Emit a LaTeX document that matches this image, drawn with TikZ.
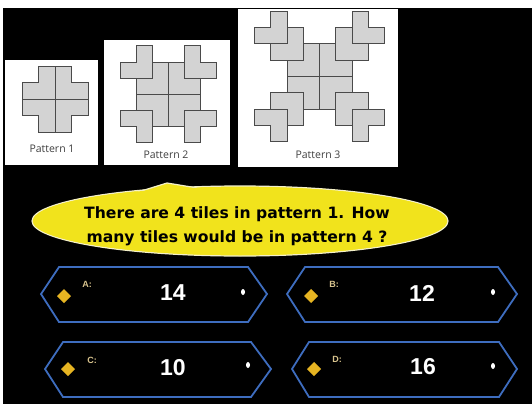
\documentclass[tikz,border=0pt]{standalone}
\usepackage{fontspec}
\setmainfont{Liberation Sans}
\newfontfamily\patfont{Open Sans}
\newfontfamily\qfont{DejaVu Sans}
\definecolor{tilegray}{HTML}{D3D3D3}
\definecolor{tileedge}{HTML}{4A4A4A}
\definecolor{labelgray}{HTML}{404040}
\definecolor{ansblue}{HTML}{3E6DBF}
\definecolor{letgold}{HTML}{D9C48E}
\definecolor{gemgold}{HTML}{E6B422}
\definecolor{callyellow}{HTML}{F1E31C}
\definecolor{glow}{HTML}{F4F0C8}
\begin{document}
\begin{tikzpicture}[x=1pt,y=-1pt,
  tile/.style={fill=tilegray, draw=tileedge, line width=1pt, line join=miter},
  tileline/.style={draw=tileedge, line width=1pt},
  patlabel/.style={font=\patfont\fontsize{10.5}{12}\selectfont, text=labelgray, inner sep=0pt},
  ansbox/.style={draw=ansblue, line width=1.8pt, line join=miter},
  ansnum/.style={font=\bfseries\fontsize{23}{26}\selectfont, text=white, inner sep=0pt},
  anslet/.style={font=\bfseries\fontsize{9}{10}\selectfont, text=letgold, inner sep=0pt},
  gem/.style={fill=gemgold},
  ]
\useasboundingbox (0,0) rectangle (532,404);
\fill[white] (0,0) rectangle (532,404);
\fill[black] (3,8) rectangle (532,404);

% ---------- pattern boxes ----------
\fill[white] (5,60) rectangle (98,165);
\fill[white] (104,40) rectangle (230,165);
\fill[white] (238,9) rectangle (398,167);

% Pattern 1 : cross
\draw[tile] (38.5,66) -- (71.5,66) -- (71.5,82.5) -- (88,82.5) -- (88,115.5) -- (71.5,115.5)
  -- (71.5,132) -- (38.5,132) -- (38.5,115.5) -- (22,115.5) -- (22,82.5) -- (38.5,82.5) -- cycle;
\draw[tileline] (55,66) -- (55,132) (22,99) -- (88,99);
\node[patlabel] (p1) at (52,149) {Pattern 1};

% Pattern 2
\draw[tile] (136,62) rectangle (200,126);
\draw[tileline] (168,62) -- (168,126) (136,94) -- (200,94);
\foreach \cx/\cy/\sx/\sy in {144/70/1/1, 192/70/-1/1, 144/118/1/-1, 192/118/-1/-1}
  \draw[tile, shift={(\cx,\cy)}, xscale=\sx*16, yscale=\sy*16]
    (-0.5,-1.5) -- (0.5,-1.5) -- (0.5,0.5) -- (-1.5,0.5) -- (-1.5,-0.5) -- (-0.5,-0.5) -- cycle;
\node[patlabel] (p2) at (166,155) {Pattern 2};

% Pattern 3
\draw[tile] (287,44) rectangle (352,109);
\draw[tileline] (319.5,44) -- (319.5,109) (287,76.5) -- (352,76.5);
\foreach \cx/\cy/\sx/\sy in {295.125/52.125/1/1, 343.875/52.125/-1/1, 295.125/100.875/1/-1, 343.875/100.875/-1/-1,
                             278.875/35.875/1/1, 360.125/35.875/-1/1, 278.875/117.125/1/-1, 360.125/117.125/-1/-1}
  \draw[tile, shift={(\cx,\cy)}, xscale=\sx*16.25, yscale=\sy*16.25]
    (-0.5,-1.5) -- (0.5,-1.5) -- (0.5,0.5) -- (-1.5,0.5) -- (-1.5,-0.5) -- (-0.5,-0.5) -- cycle;
\node[patlabel] (p3) at (318,155) {Pattern 3};

% ---------- question callout ----------
\filldraw[fill=callyellow, draw=glow, line width=1.2pt] (240,221) ellipse [x radius=208pt, y radius=35pt];
\filldraw[fill=callyellow, draw=glow, line width=1.2pt] (125,196) -- (167,183) -- (222,192) -- cycle;
\fill[callyellow] (240,221) ellipse [x radius=207pt, y radius=34pt];
\node[font=\qfont\bfseries\fontsize{15.6}{24}\selectfont, align=center, inner sep=0pt] (q) at (237,226)
  {There are 4 tiles in pattern 1. How\\many tiles would be in pattern 4 ?};

% ---------- answer boxes ----------
\draw[ansbox] (41,294) -- (59,267) -- (248,267) -- (267,294) -- (248,322) -- (59,322) -- cycle;
\draw[ansbox] (287,294) -- (305,267) -- (498,267) -- (517,294) -- (498,322) -- (305,322) -- cycle;
\draw[ansbox] (45,369) -- (63,342) -- (251,342) -- (271,369) -- (251,397) -- (63,397) -- cycle;
\draw[ansbox] (292,369) -- (309,342) -- (499,342) -- (517,369) -- (499,397) -- (309,397) -- cycle;

% diamonds
\foreach \gx/\gy in {64/296, 311/296, 68/369, 314/369}
  \fill[gem] (\gx-7,\gy) -- (\gx,\gy-7) -- (\gx+7,\gy) -- (\gx,\gy+7) -- cycle;
% dots
\foreach \dx/\dy in {243/292, 493/292, 248/365, 493/366}
  \fill[white] (\dx,\dy) ellipse [x radius=2pt, y radius=3pt];

\node[anslet] (la) at (87,284) {A:};
\node[anslet] (lb) at (334,284) {B:};
\node[anslet] (lc) at (92,360) {C:};
\node[anslet] (ld) at (337,359) {D:};

\node[ansnum] (na) at (173,293) {14};
\node[ansnum] (nb) at (422,293) {12};
\node[ansnum] (nc) at (173,368) {10};
\node[ansnum] (nd) at (423,367) {16};
\end{tikzpicture}
\end{document}
